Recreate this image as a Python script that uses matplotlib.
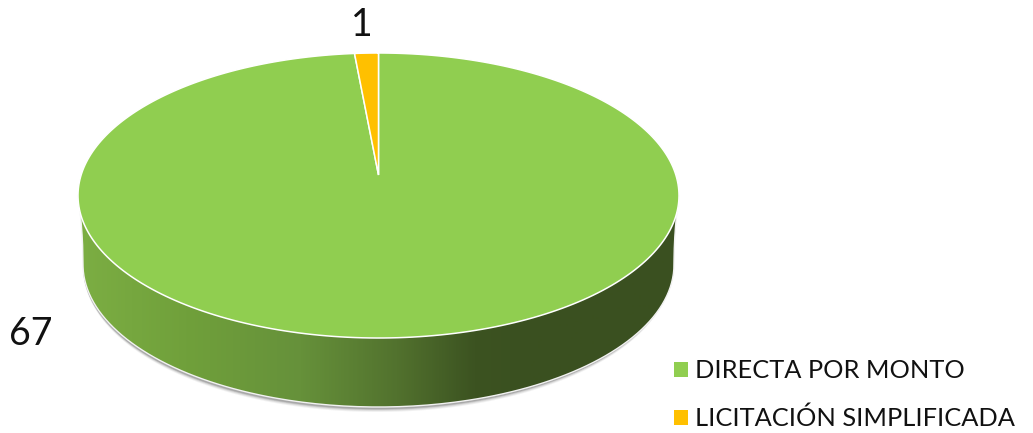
# 3D looking pie, drawn in pixel coordinates

import matplotlib
matplotlib.use('Agg')
import matplotlib.pyplot as plt
import numpy as np
from matplotlib.colors import LinearSegmentedColormap
from matplotlib.patches import Patch

categories = ['DIRECTA POR MONTO', 'LICITACIÓN SIMPLIFICADA']
values = [67, 1]
colors = ['#90CE50', '#FFC000']

# side band shading, left to right
side_stops = ['#7CAE43', '#70A03B', '#66913A', '#52722E', '#3C5321', '#3A5020', '#3B5120']

# -----------------------------
# pie geometry
cx, cy, rx, ry = 378.5, 195.5, 300.5, 142.5
apex_y = 175
depth_cy, depth_rx, depth_ry = 264.5, 295.5, 142.5
e = (cy - apex_y) / ry


def rim(theta):
    # theta clockwise from the top, perspective keeps pie centre at the apex
    x, y = np.sin(theta), np.cos(theta)
    d = 1 + e * y
    return cx + rx * x * np.sqrt(1 - e ** 2) / d, cy - ry * (y + e) / d


fig = plt.figure(figsize=(10.33, 4.33), dpi=100)
ax = fig.add_axes([0, 0, 1, 1])
ax.set_xlim(0, 1033)
ax.set_ylim(433, 0)
ax.axis('off')

t = np.linspace(0, np.pi, 200)
top_x = cx - rx * np.cos(t)
top_y = cy + ry * np.sin(t)

# outer edge of the side: short tapered run from the rim, then the lower ellipse
run = np.linspace(0, 1, 40)
taper = rx - (rx - depth_rx) * (1 - (1 - run) ** 2)
run_y = cy + (depth_cy - cy) * run
bot_x = np.r_[cx + taper, cx + depth_rx * np.cos(t), (cx - taper)[::-1]]
bot_y = np.r_[run_y, depth_cy + depth_ry * np.sin(t), run_y[::-1]]

# soft shadow under the side, fades out behind the band at both ends
ts = np.linspace(-0.15, np.pi + 0.15, 240)
for grow, a in [(3.5, 0.08), (2.5, 0.12), (1.5, 0.18), (0.7, 0.25)]:
    ax.fill(cx + (depth_rx - 1 + grow * 0.8 * np.sin(ts)) * np.cos(ts) - 1,
            depth_cy + 1.5 + (depth_ry + grow) * np.sin(ts),
            color='#555555', alpha=a, lw=0, zorder=1)

# side band with the gradient
cmap = LinearSegmentedColormap.from_list('side', list(zip(
    [0, 0.18, 0.37, 0.53, 0.66, 0.75, 1], side_stops)))
grad = np.linspace(0, 1, 600).reshape(1, -1)
im = ax.imshow(grad, cmap=cmap, extent=[cx - rx, cx + rx, 433, 0], aspect='auto', zorder=2)
clip = ax.fill(np.r_[top_x, bot_x], np.r_[top_y, bot_y], color='none', lw=0)[0]
im.set_clip_path(clip)
ax.set_xlim(0, 1033)
ax.set_ylim(433, 0)
ax.plot(bot_x, bot_y, color='#f2f2f2', lw=1, zorder=3)

# top face, one wedge per value
fracs = np.cumsum([0] + values) / sum(values) * 2 * np.pi
for i, c in enumerate(colors):
    th = np.linspace(fracs[i], fracs[i + 1], 300)
    xs, ys = rim(th)
    ax.fill(np.r_[cx, xs], np.r_[apex_y, ys], facecolor=c, edgecolor='white', lw=1.1, zorder=4)

# labels
ax.text(362, 25, str(values[1]), fontsize=27, family='Lato', color='#111111',
        ha='center', va='center')
ax.text(31, 334, str(values[0]), fontsize=27, family='Lato', color='#111111',
        ha='center', va='center')

handles = [Patch(facecolor=c, edgecolor='none', label=n) for c, n in zip(colors, categories)]
ax.legend(handles=handles, loc='lower right', bbox_to_anchor=(0.9925, -0.017), frameon=False,
          prop={'family': 'Lato', 'size': 18.25}, labelcolor='#111111', handlelength=0.54,
          handleheight=0.54, handletextpad=0.28, labelspacing=0.97, borderpad=0.2,
          borderaxespad=0.2)

fig.savefig('out.png', dpi=100)
